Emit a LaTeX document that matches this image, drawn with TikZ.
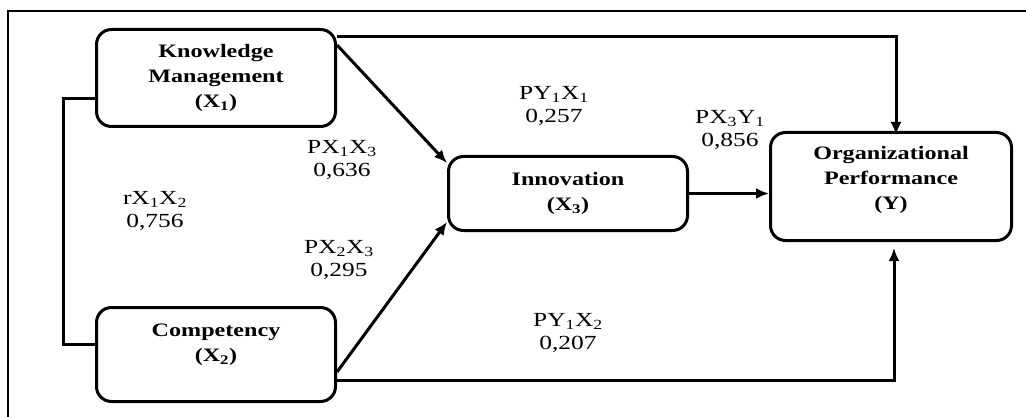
\documentclass[tikz,border=0pt]{standalone}
\usepackage{fontspec}
\setmainfont{Liberation Serif}[FakeStretch=1.27]
\usetikzlibrary{arrows.meta}

\begin{document}
\begin{tikzpicture}[x=1pt,y=-1pt,>={Latex[length=13pt,width=11pt]},
  var/.style={draw,line width=3pt,rounded corners=15pt,inner sep=0pt},
  vartext/.style={align=center,font=\fontsize{19}{25}\selectfont\bfseries},
  coef/.style={align=center,font=\fontsize{20}{23}\selectfont},
  link/.style={line width=3pt}]
\useasboundingbox (0,0) rectangle (1026,417);
\draw[line width=1.3pt] (8,417) -- (8,11) -- (1026,11);

\node[var,minimum width=239pt,minimum height=97pt] (km) at (216,78) {};
\node[var,minimum width=239pt,minimum height=94pt] (comp) at (216,354.5) {};
\node[var,minimum width=239pt,minimum height=74pt] (innov) at (568,193.5) {};
\node[var,minimum width=241pt,minimum height=108pt] (org) at (891,186.5) {};

\node[vartext] (kmtext) at (km) {Knowledge\\Management\\(X\textsubscript{1})};
\node[vartext,yshift=9.5pt] (comptext) at (comp) {Competency\\(X\textsubscript{2})};
\node[vartext] (innovtext) at (innov) {Innovation\\(X\textsubscript{3})};
\node[vartext,yshift=6.5pt] (orgtext) at (org) {Organizational\\Performance\\(Y)};

\draw[link] ([yshift=-21pt]km.west) -- ++(-32,0) |- ([yshift=10.5pt]comp.west);
\draw[link,->] ([yshift=-17pt]km.north east) -- ([yshift=-8pt]innov.north west);
\draw[link,->] ([yshift=31pt]comp.south east) -- ([yshift=10pt]innov.south west);
\draw[link,->] ([yshift=-9pt]km.north east) -| ([xshift=5pt,yshift=-4pt]org.north);
\draw[link,->] ([yshift=23pt]comp.south east) -| ([xshift=3pt,yshift=-6pt]org.south);
\draw[link,->] (innov.east) -- (innov.east -| org.west);

\node[coef] (r12) at (155,211) {rX\textsubscript{1}X\textsubscript{2}\\0,756};
\node[coef] (p13) at (342,160) {PX\textsubscript{1}X\textsubscript{3}\\0,636};
\node[coef] (p23) at (339,260) {PX\textsubscript{2}X\textsubscript{3}\\0,295};
\node[coef] (py11) at (554,105.5) {PY\textsubscript{1}X\textsubscript{1}\\0,257};
\node[coef] (p3y) at (730,130) {PX\textsubscript{3}Y\textsubscript{1}\\0,856};
\node[coef] (py12) at (568,332.5) {PY\textsubscript{1}X\textsubscript{2}\\0,207};

\end{tikzpicture}
\end{document}
